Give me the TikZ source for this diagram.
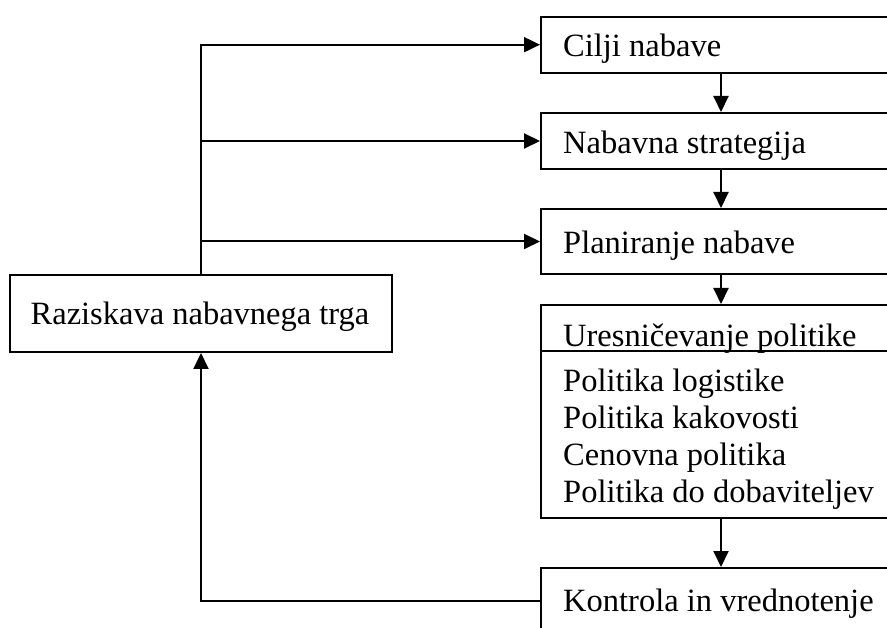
\documentclass[tikz,border=0pt]{standalone}
\usepackage{fontspec}
\setmainfont{Liberation Serif}
\usetikzlibrary{arrows.meta}
\begin{document}
\begin{tikzpicture}[x=1pt,y=-1pt,
  box/.style={draw=black, line width=2pt, rectangle, inner sep=0pt, minimum width=360pt},
  txt/.style={anchor=base west, inner sep=0pt, font=\fontsize{32.5}{36.7}\selectfont},
  conn/.style={draw=black, line width=2pt},
  arr/.style={conn, -{Triangle[length=16pt,width=15pt]}}]
\useasboundingbox (0,0) rectangle (887,628);
\clip (0,0) rectangle (887,628);
\fill[white] (0,0) rectangle (887,628);
% right column boxes
\node[box, minimum height=56pt] (b1) at (721,44.7) {};
\node[box, minimum height=56pt] (b2) at (721,141) {};
\node[box, minimum height=65pt] (b3) at (721,241.5) {};
\node[box, minimum height=213pt] (b4) at (721,411.5) {};
\node[box, minimum height=66pt] (b5) at (721,601) {};
% left box
\node[box, minimum width=382pt, minimum height=77pt] (raz) at (201,313.5) {};
% texts
\node[txt] (t1) at (563,56.7) {Cilji nabave};
\node[txt] (t2) at (563,153.3) {Nabavna strategija};
\node[txt] (t3) at (563,253.3) {Planiranje nabave};
\node[txt] (t4) at (563,347) {Uresničevanje politike};
\node[txt] (t4a) at (563,392) {Politika logistike};
\node[txt] (t4b) at (563,428.5) {Politika kakovosti};
\node[txt] (t4c) at (563,465) {Cenovna politika};
\node[txt] (t4d) at (563,502) {Politika do dobaviteljev};
\node[txt] (t5) at (563,611) {Kontrola in vrednotenje};
\node[font=\fontsize{32.5}{36.7}\selectfont, inner sep=0pt, anchor=base] (tr) at (200,325) {Raziskava nabavnega trga};
% divider in b4
\draw[conn] ([yshift=-47pt]b4.north west) -- ([yshift=-47pt]b4.north east);
% vertical flow
\draw[arr] (b1.south) -- (b2.north);
\draw[arr] (b2.south) -- (b3.north);
\draw[arr] (b3.south) -- (b4.north);
\draw[arr] (b4.south) -- (b5.north);
% distribution from research box
\draw[arr] (raz.north) |- (b1.west);
\draw[arr] (raz.north) |- (b2.west);
\draw[arr] (raz.north) |- (b3.west);
% feedback
\draw[arr] (b5.west) -| (raz.south);
\end{tikzpicture}
\end{document}
